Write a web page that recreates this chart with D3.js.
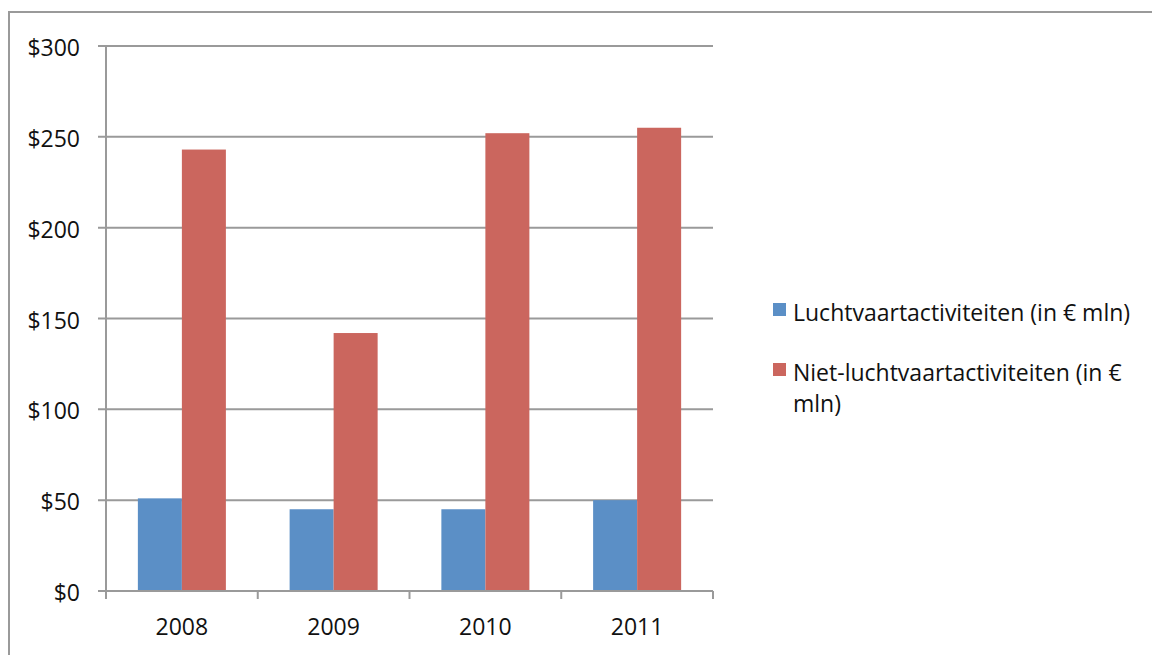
<!DOCTYPE html>
<html>
<head>
<meta charset="utf-8">
<script src="https://cdn.jsdelivr.net/npm/d3@7"></script>
<style>
	body { margin: 0; background: white; }
	text { font-family: 'Open Sans', Lato, sans-serif; fill: #111; font-size: 23px; }
</style>
</head>
<body>
<div></div>
<script>
var years = ['2008', '2009', '2010', '2011'];
var series = ['Luchtvaartactiviteiten (in € mln)', 'Niet-luchtvaartactiviteiten (in € mln)'];
var lucht = [51, 45, 45, 50];
var niet_lucht = [243, 142, 252, 255];
var y_ticks = [0, 50, 100, 150, 200, 250, 300];

function draw_chart() {
	var margin = {top: 46, left: 106};
	var width = 607;
	var height = 545;

	var svg = d3.select('div')
		.append('svg')
			.attr('width', 1152)
			.attr('height', 655);

	// outer frame
	svg.append('path')
		.attr('d', 'M9,660 V12 H1160')
		.attr('fill', 'none')
		.attr('stroke', '#9a9a9a')
		.attr('stroke-width', 2);

	var g = svg.append('g')
		.attr('transform', 'translate(' + margin.left + ',' + margin.top + ')');

	var x = d3.scaleBand()
		.domain(years)
		.range([0, width])
		.paddingInner(0.42)
		.paddingOuter(0.21);

	var x1 = d3.scaleBand()
		.domain([0, 1])
		.range([0, x.bandwidth()]);

	var y = d3.scaleLinear()
		.domain([0, 300])
		.range([height, 0]);

	var color = ['#5b8fc6', '#cb665e'];

	// gridlines
	g.append('g')
		.selectAll('line')
		.data(y_ticks)
		.enter()
		.append('line')
			.attr('x1', -8)
			.attr('x2', width)
			.attr('y1', function(d) { return y(d); })
			.attr('y2', function(d) { return y(d); })
			.attr('stroke', '#9a9a9a')
			.attr('stroke-width', 2);

	// y labels
	g.append('g')
		.selectAll('text')
		.data(y_ticks)
		.enter()
		.append('text')
			.attr('x', -26)
			.attr('y', function(d) { return y(d) + 10; })
			.attr('text-anchor', 'end')
			.text(function(d) { return '$' + d; });

	// bars
	var data = years.map(function(yr, i) { return [lucht[i], niet_lucht[i]]; });
	g.append('g')
		.selectAll('g')
		.data(data)
		.enter()
		.append('g')
			.attr('transform', function(d, i) { return 'translate(' + x(years[i]) + ',0)'; })
		.selectAll('rect')
		.data(function(d) { return d; })
		.enter()
		.append('rect')
			.attr('x', function(d, j) { return x1(j); })
			.attr('width', x1.bandwidth())
			.attr('y', function(d) { return y(d); })
			.attr('height', function(d) { return height - y(d); })
			.attr('fill', function(d, j) { return color[j]; });

	// axes lines
	g.append('line')
		.attr('x1', 0).attr('x2', 0)
		.attr('y1', 0).attr('y2', height)
		.attr('stroke', '#9a9a9a')
		.attr('stroke-width', 2);
	g.append('line')
		.attr('x1', 0).attr('x2', width)
		.attr('y1', height).attr('y2', height)
		.attr('stroke', '#9a9a9a')
		.attr('stroke-width', 2);

	// x ticks
	g.append('g')
		.selectAll('line')
		.data(d3.range(years.length + 1))
		.enter()
		.append('line')
			.attr('x1', function(d) { return d * width / years.length; })
			.attr('x2', function(d) { return d * width / years.length; })
			.attr('y1', height)
			.attr('y2', height + 8)
			.attr('stroke', '#9a9a9a')
			.attr('stroke-width', 2);

	// x labels
	g.append('g')
		.selectAll('text')
		.data(years)
		.enter()
		.append('text')
			.attr('x', function(d) { return x(d) + x.bandwidth() / 2; })
			.attr('y', height + 44)
			.attr('text-anchor', 'middle')
			.text(function(d) { return d; });

	// legend
	var legend = svg.append('g');
	legend.append('rect')
		.attr('x', 773).attr('y', 303)
		.attr('width', 13).attr('height', 13)
		.attr('fill', color[0]);
	legend.append('text')
		.attr('x', 793).attr('y', 321)
		.text(series[0]);
	legend.append('rect')
		.attr('x', 773).attr('y', 363)
		.attr('width', 13).attr('height', 13)
		.attr('fill', color[1]);
	legend.append('text')
		.attr('x', 793).attr('y', 381)
		.text('Niet-luchtvaartactiviteiten (in €');
	legend.append('text')
		.attr('x', 793).attr('y', 412)
		.text('mln)');
}

draw_chart();
</script>
</body>
</html>
